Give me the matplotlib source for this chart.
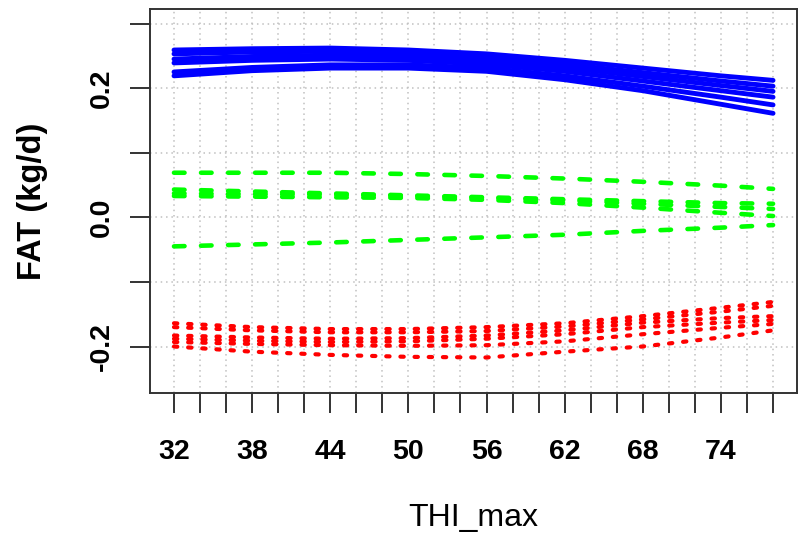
import numpy as np
import matplotlib
matplotlib.use("Agg")
from matplotlib import pyplot as plt

#data: THI_max and the lines for each group
thi = [32, 38, 44, 50, 56, 62, 68, 74, 78]

blue_lines = [
    [0.259, 0.261, 0.262, 0.259, 0.253, 0.243, 0.231, 0.219, 0.212],
    [0.253, 0.256, 0.257, 0.254, 0.247, 0.237, 0.224, 0.211, 0.203],
    [0.245, 0.249, 0.251, 0.249, 0.243, 0.232, 0.218, 0.204, 0.195],
    [0.239, 0.243, 0.245, 0.243, 0.237, 0.226, 0.211, 0.196, 0.186],
    [0.225, 0.232, 0.236, 0.236, 0.231, 0.219, 0.203, 0.186, 0.174],
    [0.219, 0.227, 0.231, 0.231, 0.226, 0.213, 0.196, 0.175, 0.161],
]

green_lines = [
    [0.069, 0.069, 0.069, 0.067, 0.064, 0.060, 0.055, 0.049, 0.044],
    [0.043, 0.040, 0.037, 0.034, 0.031, 0.028, 0.025, 0.022, 0.021],
    [0.037, 0.036, 0.035, 0.033, 0.030, 0.026, 0.021, 0.016, 0.013],
    [0.033, 0.032, 0.031, 0.030, 0.027, 0.022, 0.015, 0.007, 0.002],
    [-0.045, -0.042, -0.039, -0.035, -0.031, -0.027, -0.021, -0.016, -0.012],
]

red_lines = [
    [-0.164, -0.170, -0.173, -0.173, -0.170, -0.164, -0.153, -0.140, -0.131],
    [-0.170, -0.175, -0.178, -0.178, -0.176, -0.169, -0.158, -0.146, -0.137],
    [-0.183, -0.186, -0.188, -0.187, -0.183, -0.175, -0.163, -0.156, -0.153],
    [-0.188, -0.191, -0.193, -0.192, -0.188, -0.181, -0.170, -0.163, -0.159],
    [-0.193, -0.196, -0.198, -0.199, -0.198, -0.192, -0.181, -0.171, -0.165],
    [-0.200, -0.208, -0.213, -0.216, -0.217, -0.208, -0.200, -0.186, -0.175],
]

x_ticks = list(range(32, 79, 2))
x_labels = [str(t) if (t - 32) % 6 == 0 else "" for t in x_ticks]
y_ticks = [-0.2, -0.1, 0.0, 0.1, 0.2, 0.3]
y_labels = ["-0.2", "", "0.0", "", "0.2", ""]

plt.rcParams['font.family'] = ['Liberation Sans', 'DejaVu Sans']

fig = plt.figure(figsize=(8.04, 5.35), dpi=100)
ax = fig.add_axes([0.1866, 0.2654, 0.8047, 0.7172])

#grid like R grid(): light gray dotted
for t in x_ticks:
    ax.axvline(t, color='#c0c0c0', lw=1.1, dashes=(1, 2.5), zorder=0)
for t in y_ticks:
    ax.axhline(t, color='#c0c0c0', lw=1.1, dashes=(1, 2.5), zorder=0)

for ys in blue_lines:
    ax.plot(thi, ys, color='#0000ff', lw=3.5, solid_capstyle='round', solid_joinstyle='round')
for ys in green_lines:
    ax.plot(thi, ys, color='#00ff00', lw=3.3, dashes=(2.3, 3.6), dash_capstyle='round')
for ys in red_lines:
    ax.plot(thi, ys, color='#ff0000', lw=3.0, dashes=(0.8, 2.6), dash_capstyle='round')

ax.set_xlim(30.16, 79.84)
ax.set_ylim(-0.272, 0.322)

ax.set_xticks(x_ticks)
ax.set_xticklabels(x_labels, fontsize=20.5, fontweight='bold')
ax.set_yticks(y_ticks)
ax.set_yticklabels(y_labels, fontsize=20.5, fontweight='bold', rotation=90, va='center')
ax.tick_params(direction='out', length=14.4, width=1.4, color='#333333')
ax.tick_params(axis='x', pad=19)
ax.tick_params(axis='y', pad=11)

for s in ax.spines.values():
    s.set_linewidth(1.4)
    s.set_color('#333333')

ax.set_xlabel('THI_max', fontsize=23, va='center')
ax.xaxis.set_label_coords(0.5, -0.326)
ax.set_ylabel('FAT (kg/d)', fontsize=23.5, fontweight='bold', va='center')
ax.yaxis.set_label_coords(-0.181, 0.5)

fig.savefig('out.png', dpi=100)
